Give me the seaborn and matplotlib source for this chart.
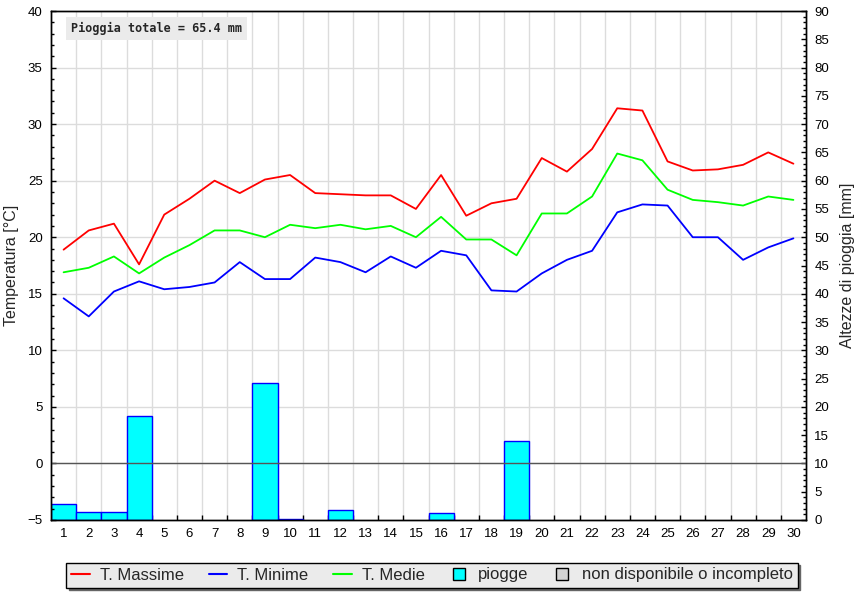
import numpy as np
import pandas as pd
import matplotlib
matplotlib.use("Agg")
import matplotlib.pyplot as plt
import matplotlib.transforms as mtransforms
from matplotlib.lines import Line2D
from matplotlib.ticker import MultipleLocator, FixedLocator
import seaborn as sns

# ---------------- data ----------------
days = list(range(1, 31))
t_max = [18.9, 20.6, 21.2, 17.6, 22.0, 23.4, 25.0, 23.9, 25.1, 25.5,
         23.9, 23.8, 23.7, 23.7, 22.5, 25.5, 21.9, 23.0, 23.4, 27.0,
         25.8, 27.8, 31.4, 31.2, 26.7, 25.9, 26.0, 26.4, 27.5, 26.5]
t_min = [14.6, 13.0, 15.2, 16.1, 15.4, 15.6, 16.0, 17.8, 16.3, 16.3,
         18.2, 17.8, 16.9, 18.3, 17.3, 18.8, 18.4, 15.3, 15.2, 16.8,
         18.0, 18.8, 22.2, 22.9, 22.8, 20.0, 20.0, 18.0, 19.1, 19.9]
t_med = [16.9, 17.3, 18.3, 16.8, 18.2, 19.3, 20.6, 20.6, 20.0, 21.1,
         20.8, 21.1, 20.7, 21.0, 20.0, 21.8, 19.8, 19.8, 18.4, 22.1,
         22.1, 23.6, 27.4, 26.8, 24.2, 23.3, 23.1, 22.8, 23.6, 23.3]
rain = [2.8, 1.4, 1.4, 18.4, 0, 0, 0, 0, 24.2, 0.2,
        0, 1.8, 0, 0, 0, 1.2, 0, 0, 14.0, 0,
        0, 0, 0, 0, 0, 0, 0, 0, 0, 0]
legend_labels = ["T. Massime", "T. Minime", "T. Medie", "piogge",
                 "non disponibile o incompleto"]

# ---------------- style ----------------
sns.set_style("white")
plt.rcParams['font.family'] = ['Liberation Sans', 'DejaVu Sans']
plt.rcParams['axes.edgecolor'] = 'black'
plt.rcParams['xtick.color'] = 'black'
plt.rcParams['ytick.color'] = 'black'

W, H = 865, 600
fig = plt.figure(figsize=(W / 100, H / 100), dpi=100)
fig.patch.set_facecolor('white')

# rain axis (bottom layer, right side) and temperature axis (top layer, left)
ax_r = fig.add_axes([51 / W, (H - 520) / H, 755 / W, 509 / H])
ax_t = ax_r.twinx()
ax_r.set_facecolor('white')

df_t = pd.DataFrame({"day": days, "tmax": t_max, "tmin": t_min, "tmed": t_med})
df_r = pd.DataFrame({"day": days, "rain": rain})
df_r = df_r[df_r["rain"] > 0]

# bars
sns.barplot(data=df_r, x="day", y="rain", native_scale=True, width=1.0,
            color="#00ffff", saturation=1, edgecolor="#0000ff", linewidth=1.0,
            errorbar=None, ax=ax_r, zorder=2)

# lines
for col, c in [("tmax", "#ff0000"), ("tmin", "#0000ff"), ("tmed", "#00ff00")]:
    sns.lineplot(data=df_t, x="day", y=col, color=c, linewidth=1.3, ax=ax_t,
                 legend=False, zorder=3)

ax_t.axhline(0, color="#555555", linewidth=1.0, zorder=2)

# limits
ax_r.set_xlim(0.5, 30.5)
ax_t.set_xlim(0.5, 30.5)
ax_t.set_ylim(-5, 40)
ax_r.set_ylim(0, 90)

# grid (drawn on the bottom layer, behind the bars)
grid_c = "#dcdcdc"
for xb in np.arange(1.5, 30.5, 1.0):
    ax_r.axvline(xb, color=grid_c, linewidth=1.0, zorder=0)
trans = mtransforms.blended_transform_factory(ax_r.transAxes, ax_t.transData)
for yv in range(0, 40, 5):
    ax_r.plot([0, 1], [yv, yv], transform=trans, color=grid_c, linewidth=1.0,
              zorder=0)

# ticks
ax_t.yaxis.tick_left()
ax_t.yaxis.set_label_position('left')
ax_r.yaxis.tick_right()
ax_r.yaxis.set_label_position('right')

ax_t.yaxis.set_major_locator(MultipleLocator(5))
ax_t.yaxis.set_minor_locator(MultipleLocator(1))
ax_r.yaxis.set_major_locator(MultipleLocator(5))
ax_r.yaxis.set_minor_locator(MultipleLocator(1))

ax_t.tick_params(axis='y', which='major', direction='in', length=3.8, width=1,
                 left=True, right=False, labelleft=True, labelright=False,
                 labelsize=9.5, pad=6)
ax_t.tick_params(axis='y', which='minor', direction='in', length=2.3, width=1,
                 left=True, right=False)
ax_r.tick_params(axis='y', which='major', direction='in', length=3.8, width=1,
                 left=False, right=True, labelleft=False, labelright=True,
                 labelsize=9.5, pad=6)
ax_r.tick_params(axis='y', which='minor', direction='in', length=2.3, width=1,
                 left=False, right=True)

ax_r.set_xticks(days)
ax_r.set_xticklabels([str(d) for d in days])
ax_r.xaxis.set_minor_locator(FixedLocator(np.arange(1.5, 30.5, 1.0)))
ax_r.tick_params(axis='x', which='major', length=0, labelsize=9.5, pad=6,
                 top=False, bottom=True)
ax_r.tick_params(axis='x', which='minor', direction='in', length=3.4, width=1,
                 top=False, bottom=True)

ax_r.set_xlabel("")
ax_t.set_xlabel("")
ax_t.set_ylabel("Temperatura [°C]", fontsize=11.5, labelpad=6)
ax_r.set_ylabel("Altezze di pioggia [mm]", fontsize=11.5, labelpad=8)

for ax in (ax_r, ax_t):
    for s in ax.spines.values():
        s.set_visible(True)
        s.set_color('black')
        s.set_linewidth(1.0)

# total rain box
total = sum(rain)
ax_t.text(0.0265, 0.966, f"Pioggia totale = {total:.1f} mm",
          transform=ax_t.transAxes, family='DejaVu Sans Mono', weight='bold',
          fontsize=8.5, ha='left', va='center', zorder=5,
          bbox=dict(facecolor='#ebebeb', edgecolor='none', pad=3.5))

# legend
handles = [
    Line2D([], [], color="#ff0000", linewidth=1.5),
    Line2D([], [], color="#0000ff", linewidth=1.5),
    Line2D([], [], color="#00ff00", linewidth=1.5),
    Line2D([], [], marker='s', linestyle='None', markersize=8,
           markerfacecolor="#00ffff", markeredgecolor='black', markeredgewidth=1),
    Line2D([], [], marker='s', linestyle='None', markersize=8,
           markerfacecolor="#d3d3d3", markeredgecolor='black', markeredgewidth=1),
]
leg = fig.legend(handles, legend_labels, loc='center',
                 bbox_to_anchor=(432 / W, 1 - 575 / H), ncol=5,
                 frameon=True, fancybox=False,
                 shadow={'color': '#666666', 'alpha': 1.0},
                 facecolor='#ebebeb', edgecolor='black', framealpha=1,
                 fontsize=12, handlelength=1.1, handletextpad=0.6,
                 columnspacing=1.5, borderpad=0.3, borderaxespad=0)
leg.get_frame().set_linewidth(1.0)

fig.savefig("out.png", dpi=100)
